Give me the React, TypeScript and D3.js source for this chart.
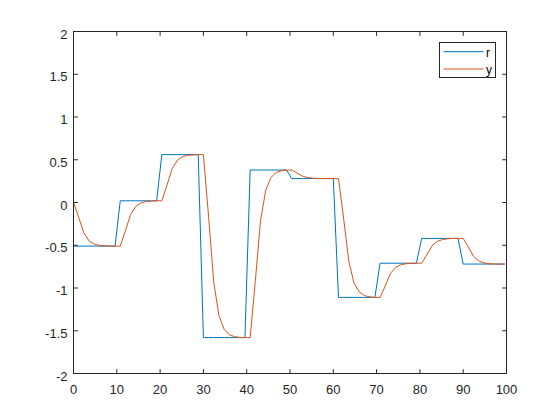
import React from "react";
import * as d3 from "d3";

// Sample spacing of the time axis and number of samples
const SAMPLE_STEP = 1.2;
const SAMPLE_COUNT = 84;

// Reference signal r: piecewise-constant levels and the sample index where each begins
const R_LEVELS = [-0.51, 0.02, 0.56, -1.58, 0.38, 0.28, -1.11, -0.71, -0.42, -0.72];
const R_STARTS = [0, 9, 17, 25, 34, 42, 51, 59, 67, 75];

// Output y, read sample by sample
const Y_VALUES = [
  0, -0.173, -0.357, -0.449, -0.487, -0.502, -0.507, -0.51, -0.51, -0.51,
  -0.33, -0.139, -0.044, -0.004, 0.012, 0.017, 0.02, 0.02,
  0.204, 0.398, 0.495, 0.536, 0.552, 0.557, 0.56, 0.56,
  -0.168, -0.938, -1.323, -1.484, -1.548, -1.569, -1.578, -1.58, -1.58,
  -0.914, -0.208, 0.145, 0.292, 0.351, 0.37, 0.378, 0.38,
  0.346, 0.31, 0.292, 0.2845, 0.2815, 0.28, 0.28, 0.28, 0.28,
  -0.193, -0.693, -0.943, -1.047, -1.089, -1.103, -1.11, -1.11,
  -0.974, -0.83, -0.758, -0.728, -0.716, -0.712, -0.71, -0.71,
  -0.611, -0.507, -0.455, -0.433, -0.424, -0.421, -0.42, -0.42,
  -0.522, -0.63, -0.684, -0.707, -0.716, -0.719, -0.72, -0.72,
];

const X_TICKS = [0, 10, 20, 30, 40, 50, 60, 70, 80, 90, 100];
const Y_TICKS = [-2, -1.5, -1, -0.5, 0, 0.5, 1, 1.5, 2];
const SERIES_NAMES = ["r", "y"];
const COLORS = ["#0072BD", "#D95319"];

const W = 560;
const H = 420;
const AX_L = 73.5;
const AX_R = 506.5;
const AX_T = 31.5;
const AX_B = 373.5;
const TICK = 4.3;
const AXIS_COLOR = "#262626";
const FONT = "'Liberation Sans', Arial, Helvetica, sans-serif";

function rAt(i: number): number {
  let lvl = R_LEVELS[0];
  for (let s = 0; s < R_STARTS.length; s++) if (i >= R_STARTS[s]) lvl = R_LEVELS[s];
  return lvl;
}

export default function App() {
  const x = d3.scaleLinear().domain([0, 100]).range([AX_L, AX_R]);
  const y = d3.scaleLinear().domain([-2, 2]).range([AX_B, AX_T]);

  const idx = d3.range(SAMPLE_COUNT);
  const rData: [number, number][] = idx.map((i) => [i * SAMPLE_STEP, rAt(i)]);
  const yData: [number, number][] = idx.map((i) => [i * SAMPLE_STEP, Y_VALUES[i]]);

  const line = d3
    .line<[number, number]>()
    .x((d) => x(d[0]))
    .y((d) => y(d[1]));

  const fmt = (v: number) => String(v);

  // legend geometry
  const lgL = 439.5, lgT = 42.5, lgW = 56, lgH = 35;

  return (
    <svg
      width={W}
      height={H}
      style={{ position: "absolute", left: 0, top: 0, background: "#fff" }}
      fontFamily={FONT}
    >
      <rect x={0} y={0} width={W} height={H} fill="#fff" />
      <rect x={AX_L} y={AX_T} width={AX_R - AX_L} height={AX_B - AX_T} fill="#fff" />

      {/* data lines */}
      <path d={line(rData) || ""} fill="none" stroke={COLORS[0]} strokeWidth={1} />
      <path d={line(yData) || ""} fill="none" stroke={COLORS[1]} strokeWidth={1} />

      {/* axes box */}
      <rect
        x={AX_L}
        y={AX_T}
        width={AX_R - AX_L}
        height={AX_B - AX_T}
        fill="none"
        stroke={AXIS_COLOR}
        strokeWidth={1}
      />

      {/* x ticks */}
      {X_TICKS.map((t) => (
        <g key={"xt" + t}>
          <line x1={x(t)} x2={x(t)} y1={AX_B} y2={AX_B - TICK} stroke={AXIS_COLOR} strokeWidth={1} />
          <line x1={x(t)} x2={x(t)} y1={AX_T} y2={AX_T + TICK} stroke={AXIS_COLOR} strokeWidth={1} />
          <text
            x={x(t)}
            y={AX_B + 20.5}
            textAnchor="middle"
            fontSize={13}
            fill={AXIS_COLOR}
          >
            {fmt(t)}
          </text>
        </g>
      ))}

      {/* y ticks */}
      {Y_TICKS.map((t) => (
        <g key={"yt" + t}>
          <line x1={AX_L} x2={AX_L + TICK} y1={y(t)} y2={y(t)} stroke={AXIS_COLOR} strokeWidth={1} />
          <line x1={AX_R} x2={AX_R - TICK} y1={y(t)} y2={y(t)} stroke={AXIS_COLOR} strokeWidth={1} />
          <text
            x={AX_L - 6}
            y={y(t)}
            dy="0.55em"
            textAnchor="end"
            fontSize={13}
            fill={AXIS_COLOR}
          >
            {fmt(t)}
          </text>
        </g>
      ))}

      {/* legend */}
      <rect x={lgL} y={lgT} width={lgW} height={lgH} fill="#fff" stroke={AXIS_COLOR} strokeWidth={1} />
      {SERIES_NAMES.map((n, k) => {
        const ly = lgT + 9.2 + k * 17.3;
        return (
          <g key={n}>
            <line x1={lgL + 4} x2={lgL + 44} y1={ly} y2={ly} stroke={COLORS[k]} strokeWidth={1} />
            <text x={lgL + 46.5} y={ly} dy="0.4em" fontSize={12} fill="#000">
              {n}
            </text>
          </g>
        );
      })}
    </svg>
  );
}
